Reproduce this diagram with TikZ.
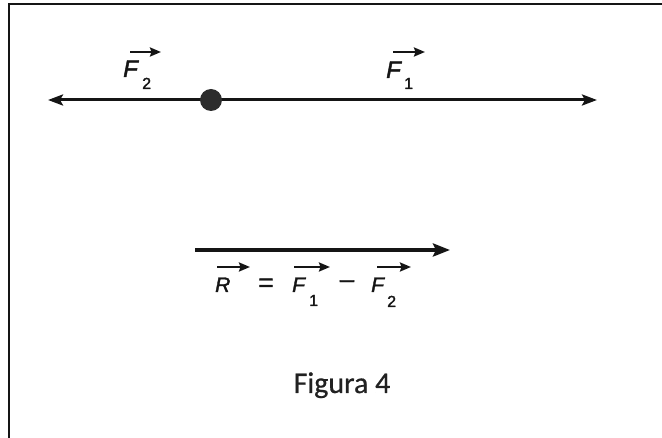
\documentclass[tikz,border=0pt]{standalone}
\usepackage{fontspec}
\setmainfont{Liberation Sans}
\newfontfamily\lblfont[FakeBold=1.8]{Liberation Sans}
\newfontfamily\capfont[FakeBold=0.6]{Carlito}
\usetikzlibrary{arrows.meta}
\definecolor{ink}{HTML}{151515}
\begin{document}
\begin{tikzpicture}[x=1pt,y=-1pt,
  force/.style={draw=ink,line width=3pt,-{Stealth[length=15pt,width=11pt,inset=3pt]}},
  result/.style={draw=ink,line width=4pt,-{Stealth[length=17pt,width=13pt,inset=3pt]}},
  vecarr/.style={draw=ink,line width=2.2pt,-{Stealth[length=11pt,width=9pt,inset=1.5pt]}},
  biglbl/.style={inner sep=0pt,anchor=base west,text=ink,font=\lblfont\fontsize{24}{27}\selectfont\itshape},
  eqlbl/.style={inner sep=0pt,anchor=base west,text=ink,font=\lblfont\fontsize{21}{24}\selectfont\itshape},
  eqsym/.style={inner sep=0pt,text=ink,font=\lblfont\fontsize{26}{28}\selectfont},
  sublbl/.style={inner sep=0pt,anchor=base west,text=ink,font=\lblfont\fontsize{16}{18}\selectfont},
  dotpt/.style={circle,fill=ink!90,inner sep=0pt,minimum size=22pt},
  captxt/.style={inner sep=0pt,anchor=base,text=ink!95,font=\capfont\fontsize{30}{36}\selectfont}
]
\useasboundingbox (0,0) rectangle (662,438);
% frame
\draw[line width=2pt,draw=ink] (9,438) -- (9,4) -- (662,4);

% forces on the body
\coordinate (Lend) at (48,100);
\coordinate (Rend) at (597,100);
\draw[force] (211,100) -- (Lend);
\draw[force] (211,100) -- (Rend);
\node[dotpt] (body) at (211,100) {};

% F2 label
\node[biglbl] (F2) at (123,77) {F};
\node[sublbl] (s2) at (142,89) {2};
\coordinate (F2a) at (130,52);
\coordinate (F2b) at (161,52);
\draw[vecarr] (F2a) -- (F2b);

% F1 label
\node[biglbl] (F1) at (386,78) {F};
\node[sublbl] (s1) at (404,89) {1};
\coordinate (F1a) at (393,52);
\coordinate (F1b) at (425,52);
\draw[vecarr] (F1a) -- (F1b);

% resultant
\coordinate (Ra) at (195,250);
\coordinate (Rb) at (450,250);
\draw[result] (Ra) -- (Rb);

% equation
\node[eqlbl] (eR) at (215,292) {R};
\coordinate (eRa) at (217,267);
\coordinate (eRb) at (250,267);
\draw[vecarr] (eRa) -- (eRb);
\node[eqsym] (eq) at (266,285) {=};
\node[eqlbl] (eF1) at (292,292) {F};
\node[sublbl] (es1) at (309,306) {1};
\coordinate (eF1a) at (294,267);
\coordinate (eF1b) at (330,267);
\draw[vecarr] (eF1a) -- (eF1b);
\node[eqsym] (mn) at (347,284) {\textendash};
\node[eqlbl] (eF2) at (371,292) {F};
\node[sublbl] (es2) at (387,307) {2};
\coordinate (eF2a) at (377,267);
\coordinate (eF2b) at (411,267);
\draw[vecarr] (eF2a) -- (eF2b);

% caption
\node[captxt] (cap) at (342,393) {Figura 4};
\end{tikzpicture}
\end{document}
